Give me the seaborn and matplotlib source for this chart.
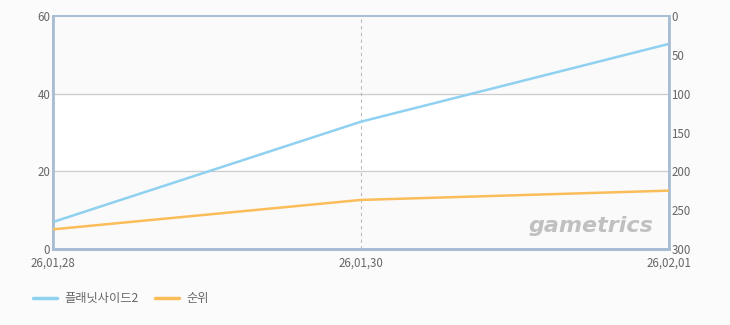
import matplotlib
matplotlib.use("Agg")
import matplotlib.pyplot as plt
import seaborn as sns
import pandas as pd

dates = ["26,01,28", "26,01,30", "26,02,01"]
share = [6.9, 32.8, 52.9]
rank = [275, 237, 225]
series_names = ["플래닛사이드2", "순위"]
left_ticks = [0, 20, 40, 60]
right_ticks = [0, 50, 100, 150, 200, 250, 300]

sns.set_theme(style="white")
plt.rcParams['font.family'] = ['Noto Sans CJK KR', 'DejaVu Sans']

BLUE = "#8fd1f0"
ORANGE = "#fbbd5a"
FRAME = "#a8bdd3"
TXT = "#666666"

df = pd.DataFrame({"x": range(len(dates)), "share": share, "rank": rank})

fig = plt.figure(figsize=(7.3, 3.25), dpi=100, facecolor="#fbfbfb")
ax = fig.add_axes([53/730, 1-248.7/325, (668.5-53)/730, (248.7-16.5)/325])
ax.set_facecolor("white")
ax.axhspan(0, 20, color="#fafafa", zorder=0)
ax.axhspan(40, 60, color="#fafafa", zorder=0)
for yv in [20, 40]:
    ax.axhline(yv, color="#cccccc", lw=0.9, zorder=1)
ax.axvline(1, color="#bbbbbb", lw=0.8, ls=(0, (3, 3)), zorder=1)

sns.lineplot(data=df, x="x", y="share", ax=ax, color=BLUE, lw=1.8, zorder=3, label=series_names[0], legend=False)
ax2 = ax.twinx()
sns.lineplot(data=df, x="x", y="rank", ax=ax2, color=ORANGE, lw=1.8, zorder=3, label=series_names[1], legend=False)

ax.set_xlim(0, 2)
ax.set_ylim(0, 60)
ax2.set_ylim(300, 0)
ax.set_xticks(range(len(dates)))
ax.set_xticklabels(dates)
ax.set_yticks(left_ticks)
ax2.set_yticks(right_ticks)
ax.set_xlabel("")
ax.set_ylabel("")
ax2.set_ylabel("")

for a in (ax, ax2):
    for s in a.spines.values():
        s.set_color(FRAME)
        s.set_linewidth(1.2)
    a.tick_params(length=0, labelsize=8.3, labelcolor=TXT, pad=2)
ax.spines["left"].set_linewidth(2)
ax.spines["bottom"].set_linewidth(2)
ax2.spines["right"].set_linewidth(2)
ax2.spines["bottom"].set_linewidth(2)
ax.tick_params(axis="x", pad=6)
ax.tick_params(axis="y", pad=2)
ax2.tick_params(axis="y", pad=2)

ax2.text(0.975, 0.055, "gametrics", transform=ax.transAxes, ha="right", va="bottom",
         fontsize=16, fontweight="bold", style="italic", color="#c0c0c0",
         family="DejaVu Sans", zorder=2)

from matplotlib.lines import Line2D
handles = [Line2D([], [], color=BLUE, lw=2.5), Line2D([], [], color=ORANGE, lw=2.5)]
fig.legend(handles, series_names, loc="lower left", bbox_to_anchor=(22/730, 9/325),
           ncol=2, frameon=False, fontsize=8.8, labelcolor=TXT, handlelength=2.0,
           handletextpad=0.6, columnspacing=1.3)

fig.savefig("out.png", dpi=100, facecolor=fig.get_facecolor())
